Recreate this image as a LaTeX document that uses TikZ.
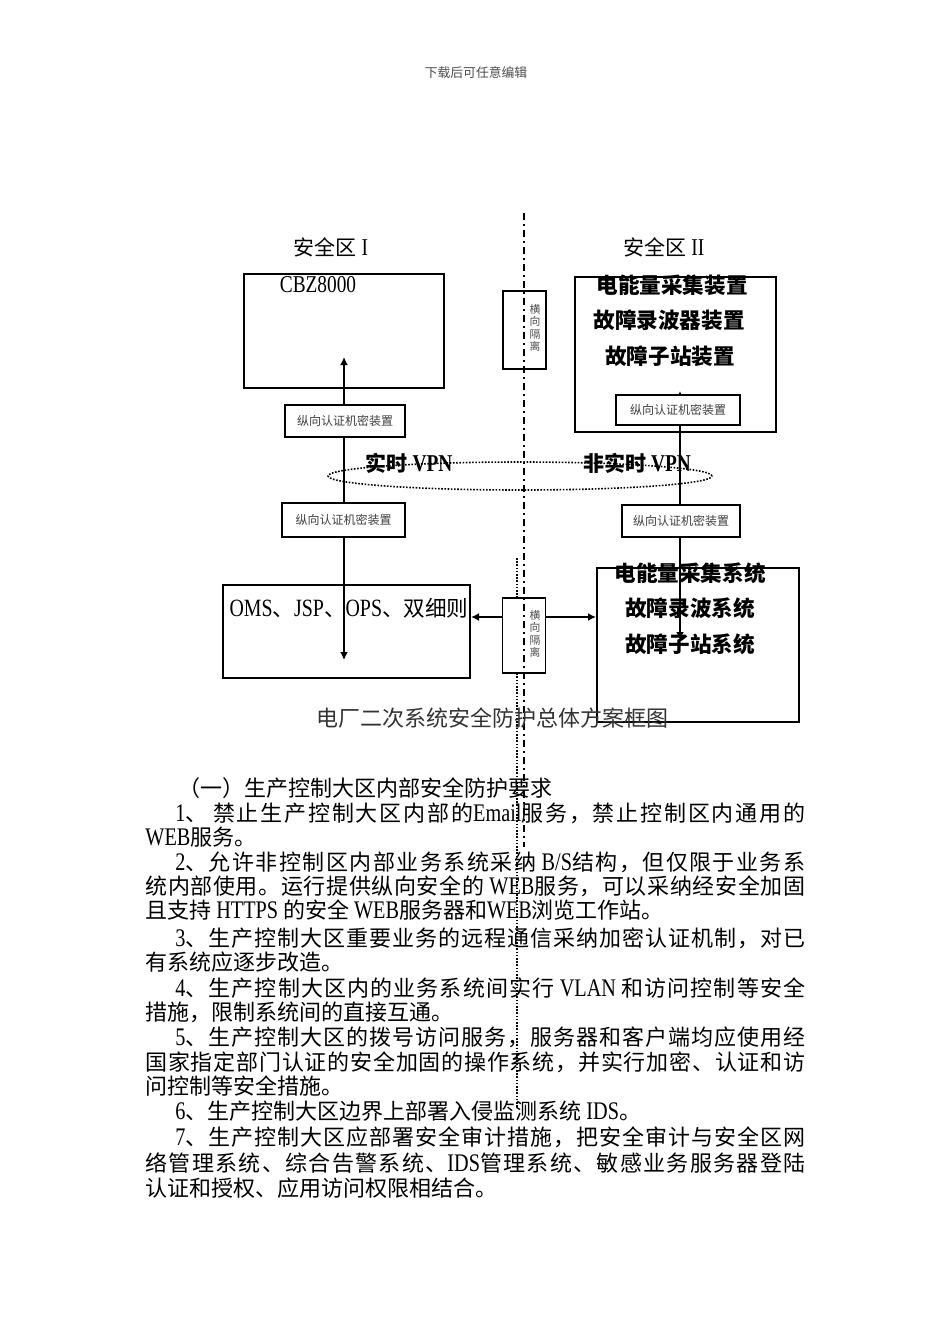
\documentclass[tikz,border=0pt]{standalone}
\usepackage{fontspec}
\setmainfont{Noto Sans CJK SC}
\newfontfamily\latf{Liberation Serif}[Scale=1.15,FakeStretch=0.8]
\newcommand\lw[1]{{\latf #1}}
\usetikzlibrary{arrows.meta,shapes.geometric}
% inter-character stretch between CJK characters (for justified lines)
\newXeTeXintercharclass\cjkcls
\count255="4E00
\loop
  \XeTeXcharclass\count255=\cjkcls
  \ifnum\count255<"9FFF \advance\count255 by 1 \repeat
\XeTeXcharclass"3001=\cjkcls
\XeTeXcharclass"3002=\cjkcls
\XeTeXcharclass"FF0C=\cjkcls
\XeTeXcharclass"FF08=\cjkcls
\XeTeXcharclass"FF09=\cjkcls
\XeTeXinterchartoks\cjkcls\cjkcls={\hskip 0pt plus 3pt\relax}
\XeTeXinterchartokenstate=1
\begin{document}
\begin{tikzpicture}[x=0.5pt,y=-0.5pt,
  bigbox/.style={draw,line width=1pt,inner sep=0pt},
  smallbox/.style={draw,line width=0.7pt,fill=white,inner sep=0pt,font=\fontsize{6}{7}\selectfont,text=black!75},
  hxbox/.style={draw,line width=0.7pt,fill=white,inner sep=0pt,minimum width=21.5pt},
  hxtext/.style={font=\fontsize{5.4}{6.2}\selectfont,text=black!70,align=center,inner sep=0pt},
  zone/.style={font=\fontsize{10.5}{12}\selectfont,inner sep=0pt},
  blab/.style={font=\fontsize{10.8}{12}\selectfont\bfseries,inner sep=0pt},
  body/.style={font=\fontsize{11}{13}\selectfont,anchor=west,inner sep=0pt},
  arr/.style={line width=1pt,{Latex[length=4pt,width=4pt]}-{Latex[length=4pt,width=4pt]}},
  harr/.style={line width=1pt,-{Latex[length=4pt,width=4pt]}},
  dotln/.style={line width=0.8pt,dash pattern=on 0.8pt off 0.8pt},
  dashdot/.style={line width=1pt,dash pattern=on 3.5pt off 2pt on 1pt off 2pt}
]
\useasboundingbox[fill=white] (0,0) rectangle (950,1344);

% header
\node[font=\fontsize{6.4}{7}\selectfont,text=black!70,inner sep=0] (hdr) at (476,73) {下载后可任意编辑};

% fine dotted line
\coordinate (dt1) at (517,558);
\coordinate (dt2) at (517,1107);
\draw[dotln] (dt1) -- (dt2);

% big boxes
\node[bigbox,minimum width=100pt,minimum height=57pt] (cbz) at (344,331) {};
\node[bigbox,minimum width=100.5pt,minimum height=77.5pt] (rtop) at (675.5,354.5) {};
\node[bigbox,minimum width=123.5pt,minimum height=46.5pt] (oms) at (346.5,631.5) {};
\node[bigbox,minimum width=101pt,minimum height=77pt] (rbot) at (698,645) {};

% VPN ellipse
\node[ellipse,draw,dotln,minimum width=192pt,minimum height=14pt,inner sep=0] (vpn) at (520,476) {};

% vertical arrows
\coordinate (ltop) at (344,357);
\coordinate (lbot) at (344,660);
\coordinate (rtp) at (680,391);
\coordinate (rbt) at (680,640);
\draw[arr] (ltop) -- (lbot);
\draw[arr] (rtp) -- (rbt);

% small boxes
\node[smallbox,minimum width=60pt,minimum height=16pt] (vl1) at (345,421) {纵向认证机密装置};
\node[smallbox,minimum width=61.5pt,minimum height=17pt] (vl2) at (343.5,520) {纵向认证机密装置};
\node[smallbox,minimum width=62pt,minimum height=15pt] (vr1) at (678,410) {纵向认证机密装置};
\node[smallbox,minimum width=59pt,minimum height=16pt] (vr2) at (681,521) {纵向认证机密装置};

% horizontal isolation boxes
\node[hxbox,minimum height=39pt] (hx1) at (524.5,330) {};
\node[hxbox,minimum height=37.5pt] (hx2) at (524,635.5) {};
\node[hxtext] (hx1t) at (535,328) {横\\向\\隔\\离};
\node[hxtext] (hx2t) at (535,634) {横\\向\\隔\\离};

% horizontal arrows
\coordinate (hy) at (0,617);
\draw[harr] (hx2.west |- hy) -- (oms.east |- hy);
\draw[harr] (hx2.east |- hy) -- (rbot.west |- hy);

% dash-dot boundary line
\coordinate (dd1) at (524,213);
\coordinate (dd2) at (524,847);
\draw[dashdot] (dd1) -- (dd2);

% labels
\node[zone] (z1) at (331,247) {安全区 \lw{I}};
\node[zone] (z2) at (664,247) {安全区 \lw{II}};
\node[zone] (cbzt) at (318,285) {\lw{CBZ8000}};
\node[blab] (rt1) at (672,285) {电能量采集装置};
\node[blab] (rt2) at (669,320) {故障录波器装置};
\node[blab] (rt3) at (670,356) {故障子站装置};
\node[blab] (rb1) at (690,573) {电能量采集系统};
\node[blab] (rb2) at (690,608) {故障录波系统};
\node[blab] (rb3) at (690,644) {故障子站系统};
\node[font=\fontsize{10.8}{12}\selectfont,inner sep=0] (omst) at (349,608) {\lw{OMS}、\lw{JSP}、\lw{OPS}、双细则};
\node[zone,font=\fontsize{10.5}{12}\selectfont\bfseries] (vpn1) at (409,463) {实时 \lw{VPN}};
\node[zone,font=\fontsize{10.5}{12}\selectfont\bfseries] (vpn2) at (637,463) {非实时 \lw{VPN}};
\node[font=\fontsize{11}{12}\selectfont,text=black!80,inner sep=0] (cap) at (492,718) {电厂二次系统安全防护总体方案框图};

% body text
\node[body] (t0) at (178,788) {（一）生产控制大区内部安全防护要求};
\node[body] (t1) at (175,813) {\hbox to 315pt{\lw{1}、 禁止生产控制大区内部的\lw{Email}服务，禁止控制区内通用的}};
\node[body] (t2) at (145,837) {\lw{WEB}服务。};
\node[body] (t3) at (175,862) {\hbox to 315pt{\lw{2}、允许非控制区内部业务系统采纳 \lw{B/S}结构，但仅限于业务系}};
\node[body] (t4) at (145,886) {\hbox to 330pt{统内部使用。运行提供纵向安全的 \lw{WEB}服务，可以采纳经安全加固}};
\node[body] (t5) at (145,910) {且支持 \lw{HTTPS} 的安全 \lw{WEB}服务器和\lw{WEB}浏览工作站。};
\node[body] (t6) at (175,938) {\hbox to 315pt{\lw{3}、生产控制大区重要业务的远程通信采纳加密认证机制，对已}};
\node[body] (t7) at (145,962) {有系统应逐步改造。};
\node[body] (t8) at (175,988) {\hbox to 315pt{\lw{4}、生产控制大区内的业务系统间实行 \lw{VLAN} 和访问控制等安全}};
\node[body] (t9) at (145,1012) {措施，限制系统间的直接互通。};
\node[body] (t10) at (175,1037) {\hbox to 315pt{\lw{5}、生产控制大区的拨号访问服务，服务器和客户端均应使用经}};
\node[body] (t11) at (145,1062) {\hbox to 330pt{国家指定部门认证的安全加固的操作系统，并实行加密、认证和访}};
\node[body] (t12) at (145,1086) {问控制等安全措施。};
\node[body] (t13) at (175,1111) {\lw{6}、生产控制大区边界上部署入侵监测系统 \lw{IDS}。};
\node[body] (t14) at (175,1137) {\hbox to 315pt{\lw{7}、生产控制大区应部署安全审计措施，把安全审计与安全区网}};
\node[body] (t15) at (145,1163) {\hbox to 330pt{络管理系统、综合告警系统、\lw{IDS}管理系统、敏感业务服务器登陆}};
\node[body] (t16) at (145,1188) {认证和授权、应用访问权限相结合。};
\end{tikzpicture}
\end{document}
